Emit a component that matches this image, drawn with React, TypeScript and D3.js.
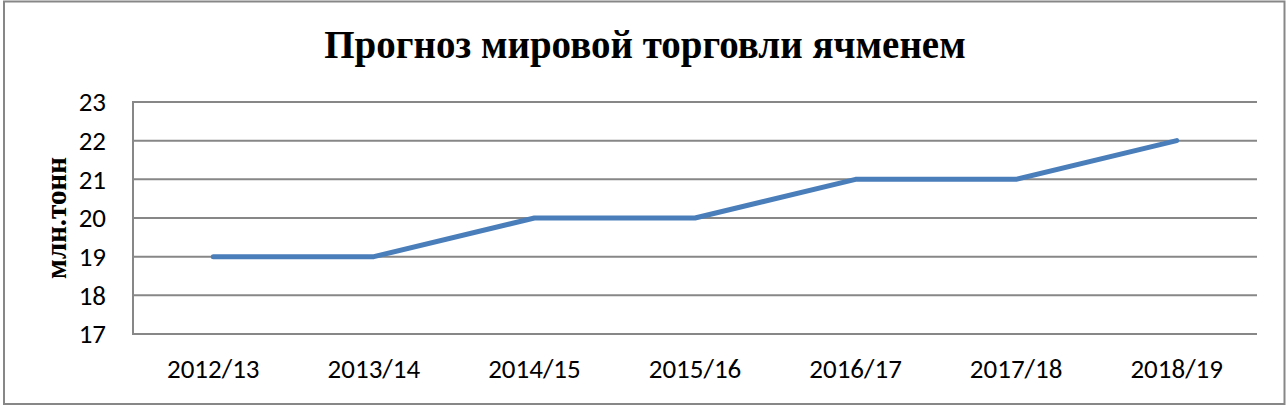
import { useRef, useEffect } from 'react';
import { select, scaleLinear, scalePoint, line } from 'd3';

const seasons = ['2012/13', '2013/14', '2014/15', '2015/16', '2016/17', '2017/18', '2018/19'];
const tradeVolume = [19, 19, 20, 20, 21, 21, 22];
const yTicks = [17, 18, 19, 20, 21, 22, 23];
const title = 'Прогноз мировой торговли ячменем';
const yTitle = 'млн.тонн';

export default function App() {
  const svgRef = useRef<SVGSVGElement>(null);

  useEffect(() => {
    if (!svgRef.current) return;
    const svg = select(svgRef.current);
    svg.selectAll('*').remove();

    const width = 1287;
    const height = 409;
    const margin = { top: 102, right: 30, bottom: 75, left: 133 };
    const innerW = width - margin.left - margin.right;
    const innerH = height - margin.top - margin.bottom;
    const sansFont = 'Carlito, Calibri, Lato, sans-serif';

    svg.attr('width', width).attr('height', height);

    // outer frame
    svg.append('rect').attr('x', 4).attr('y', 1.5).attr('width', 1280.5).attr('height', 402.5)
      .attr('fill', '#fff').attr('stroke', '#878787').attr('stroke-width', 2);

    svg.append('text').attr('x', 645).attr('y', 58).attr('text-anchor', 'middle')
      .style('font-family', '"Liberation Serif", "Times New Roman", serif')
      .style('font-weight', 'bold').style('font-size', '39px').text(title);

    const g = svg.append('g').attr('transform', `translate(${margin.left},${margin.top})`);

    const x = scalePoint<string>().domain(seasons).range([0, innerW]).padding(0.5);
    const y = scaleLinear().domain([17, 23]).range([innerH, 0]);

    // grid
    g.selectAll('.grid').data(yTicks).join('line')
      .attr('x1', 0).attr('x2', innerW)
      .attr('y1', d => y(d)).attr('y2', d => y(d))
      .attr('stroke', '#878787').attr('stroke-width', 2);

    // left axis line
    g.append('line').attr('x1', 0).attr('x2', 0).attr('y1', y(23) - 1).attr('y2', y(17) + 1)
      .attr('stroke', '#878787').attr('stroke-width', 2);

    g.selectAll('.ytick').data(yTicks).join('text')
      .attr('x', -27).attr('y', d => y(d)).attr('dy', '0.34em').attr('text-anchor', 'end')
      .style('font-family', sansFont).style('font-size', '27px').attr('fill', '#000')
      .text(d => String(d));

    g.selectAll('.xtick').data(seasons).join('text')
      .attr('x', d => x(d) ?? 0).attr('y', innerH + 44).attr('text-anchor', 'middle')
      .style('font-family', sansFont).style('font-size', '27px').attr('fill', '#000')
      .text(d => d);

    svg.append('text')
      .attr('transform', `translate(66,${margin.top + innerH / 2}) rotate(-90)`)
      .attr('text-anchor', 'middle')
      .style('font-family', '"Liberation Serif", "Times New Roman", serif')
      .style('font-weight', 'bold').style('font-size', '29px').text(yTitle);

    const pts = seasons.map((s, i) => ({ s, v: tradeVolume[i] }));
    const lineGen = line<{ s: string; v: number }>()
      .x(d => x(d.s) ?? 0)
      .y(d => y(d.v));

    g.append('path').datum(pts).attr('d', lineGen)
      .attr('fill', 'none').attr('stroke', '#4a7ebb').attr('stroke-width', 5)
      .attr('stroke-linecap', 'round').attr('stroke-linejoin', 'round');
  }, []);

  return (
    <div style={{ position: 'absolute', left: 0, top: 0 }}>
      <svg ref={svgRef} style={{ display: 'block' }} />
    </div>
  );
}
